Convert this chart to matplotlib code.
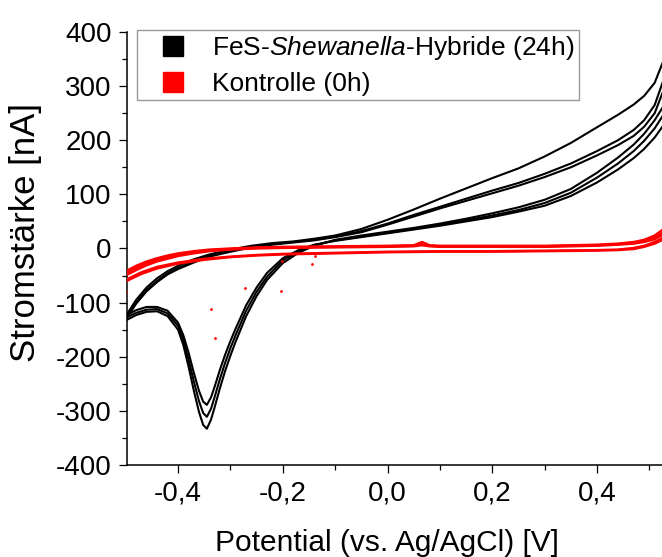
import matplotlib
matplotlib.use("Agg")
import matplotlib.pyplot as plt
from matplotlib.lines import Line2D
from matplotlib.ticker import MultipleLocator, FuncFormatter

plt.rcParams["font.family"] = ["Liberation Sans", "DejaVu Sans"]
plt.rcParams["mathtext.fontset"] = "custom"
plt.rcParams["mathtext.rm"] = "Liberation Sans"
plt.rcParams["mathtext.it"] = "Liberation Sans:italic"
plt.rcParams["axes.unicode_minus"] = False

# FeS-Shewanella hybrid (24h), three cycles: forward scans
fwd_v = [-0.50, -0.48, -0.46, -0.44, -0.42, -0.40, -0.37, -0.34, -0.30, -0.26, -0.22, -0.18, -0.14,
         -0.10, -0.05, 0.00, 0.05, 0.10, 0.15, 0.20, 0.25, 0.30, 0.35, 0.40, 0.44, 0.47, 0.49, 0.51, 0.53]
fwd_1 = [-125, -95, -72, -55, -42, -32, -20, -11, -2, 5, 10, 13, 18,
         24, 36, 53, 72, 92, 111, 130, 148, 170, 195, 224, 247, 266, 282, 306, 355]
fwd_2 = [-130, -100, -77, -60, -46, -36, -24, -14, -5, 3, 8, 12, 16,
         22, 32, 46, 62, 77, 92, 107, 121, 138, 157, 180, 200, 219, 237, 265, 320]
fwd_3 = [-132, -102, -79, -62, -48, -38, -26, -15, -6, 2, 7, 11, 15,
         21, 30, 44, 59, 74, 88, 102, 116, 132, 150, 172, 191, 208, 225, 250, 300]

# reverse scans with the reduction peak near -0.345 V
rev_v = [0.53, 0.51, 0.49, 0.47, 0.44, 0.40, 0.35, 0.30, 0.25, 0.20, 0.15, 0.10, 0.05, 0.00, -0.05,
         -0.10, -0.14, -0.17, -0.20, -0.23, -0.25, -0.27, -0.29, -0.30, -0.31, -0.32, -0.33, -0.337,
         -0.345, -0.352, -0.36, -0.37, -0.38, -0.39, -0.40, -0.42, -0.44, -0.46, -0.48, -0.50]
rev_1 = [268, 237, 212, 192, 168, 140, 110, 90, 76, 65, 55, 46, 38, 31, 24,
         16, 5, -8, -27, -58, -88, -125, -172, -198, -226, -258, -293, -316,
         -333, -326, -302, -262, -218, -178, -150, -125, -116, -117, -123, -133]
rev_2 = [252, 222, 199, 180, 157, 131, 103, 84, 71, 61, 52, 44, 36, 29, 22,
         15, 6, -5, -22, -52, -80, -115, -160, -184, -211, -241, -274, -296,
         -311, -304, -282, -245, -205, -168, -143, -120, -112, -113, -119, -128]
rev_3 = [232, 205, 184, 167, 146, 122, 97, 79, 68, 58, 50, 42, 35, 28, 21,
         14, 7, -3, -18, -45, -72, -105, -148, -171, -196, -224, -255, -275,
         -289, -283, -263, -229, -192, -160, -137, -115, -108, -108, -114, -124]

# Kontrolle (0h), three cycles
red_fwd_v = [-0.50, -0.48, -0.46, -0.44, -0.42, -0.40, -0.37, -0.34, -0.30, -0.25, -0.20, -0.10, 0.00,
             0.05, 0.066, 0.08, 0.10, 0.20, 0.30, 0.40, 0.44, 0.47, 0.49, 0.51, 0.53]
red_fwd_1 = [-42, -32, -24, -18, -13, -9, -5, -2, 0, 2, 3, 4, 5, 6, 12, 6, 5, 5, 5, 7, 9, 12, 16, 24, 38]
red_fwd_2 = [-46, -36, -27, -21, -16, -12, -7, -4, -1, 1, 2, 3, 4, 5, 8, 5, 4, 4, 4, 6, 8, 10, 14, 20, 32]
red_fwd_3 = [-50, -40, -31, -24, -19, -14, -9, -5, -2, 0, 1, 2, 3, 4, 6, 4, 3, 3, 3, 5, 7, 9, 12, 17, 28]

red_rev_v = [0.53, 0.51, 0.49, 0.47, 0.44, 0.40, 0.30, 0.20, 0.10, 0.00, -0.10, -0.20, -0.25, -0.30,
             -0.35, -0.40, -0.44, -0.47, -0.50]
red_rev_1 = [22, 12, 5, 1, -2, -3, -4, -5, -5, -6, -8, -10, -12, -15, -19, -26, -34, -44, -58]
red_rev_2 = [18, 9, 3, -1, -3, -4, -5, -6, -6, -7, -9, -11, -13, -16, -21, -28, -37, -47, -61]

# stray points of the control measurement
red_dots_v = [-0.497, -0.499, -0.338, -0.329, -0.273, -0.204, -0.201, -0.145, -0.139]
red_dots_i = [-43, -80, -112, -165, -73, -79, -23, -29, -14]

fig = plt.figure(figsize=(6.62, 5.57), dpi=100)
ax = fig.add_axes([0.1918, 0.1652, 0.8082, 0.7774])

for y in (fwd_1, fwd_2, fwd_3):
    ax.plot(fwd_v, y, color="black", lw=1.5, zorder=2)
for y in (rev_1, rev_2, rev_3):
    ax.plot(rev_v, y, color="black", lw=1.5, zorder=2)

for y in (red_fwd_1, red_fwd_2, red_fwd_3):
    ax.plot(red_fwd_v, y, color="#ff0000", lw=1.7, zorder=3)
for y in (red_rev_1, red_rev_2):
    ax.plot(red_rev_v, y, color="#ff0000", lw=1.7, zorder=3)
ax.scatter(red_dots_v, red_dots_i, color="#ff0000", s=4, lw=0, zorder=3)

ax.set_xlim(-0.4975, 0.524)
ax.set_ylim(-400, 400)
ax.spines["top"].set_visible(False)
ax.spines["right"].set_visible(False)
for s in ("left", "bottom"):
    ax.spines[s].set_linewidth(1.1)

ax.xaxis.set_major_locator(MultipleLocator(0.2))
ax.xaxis.set_minor_locator(MultipleLocator(0.1))
ax.yaxis.set_major_locator(MultipleLocator(100))
ax.yaxis.set_minor_locator(MultipleLocator(50))
ax.xaxis.set_major_formatter(FuncFormatter(lambda v, p: f"{v:.1f}".replace(".", ",").replace("-0,0", "0,0")))
ax.yaxis.set_major_formatter(FuncFormatter(lambda v, p: f"{v:.0f}"))
ax.tick_params(which="major", direction="out", length=6, width=0.9, labelsize=20, pad=5)
ax.tick_params(which="minor", direction="out", length=3.5, width=0.9)

ax.set_xlabel("Potential (vs. Ag/AgCl) [V]", fontsize=21.5)
ax.xaxis.set_label_coords(0.486, -0.148)
ax.set_ylabel("Stromstärke [nA]", fontsize=25)
ax.yaxis.set_label_coords(-0.158, 0.538)

handles = [
    Line2D([], [], ls="none", marker="s", ms=14, color="black"),
    Line2D([], [], ls="none", marker="s", ms=14, color="#ff0000"),
]
labels = [r"FeS-$\it{Shewanella}$-Hybride (24h)", "Kontrolle (0h)"]
leg = ax.legend(handles, labels, loc="upper left", bbox_to_anchor=(0.0187, 1.005),
                borderaxespad=0, fontsize=19, frameon=True, fancybox=False,
                borderpad=0.15, handlelength=2.4, handletextpad=0.3, labelspacing=0.4)
leg.get_frame().set_edgecolor("#808080")
leg.get_frame().set_linewidth(1.0)

fig.savefig("out.png", dpi=100)
